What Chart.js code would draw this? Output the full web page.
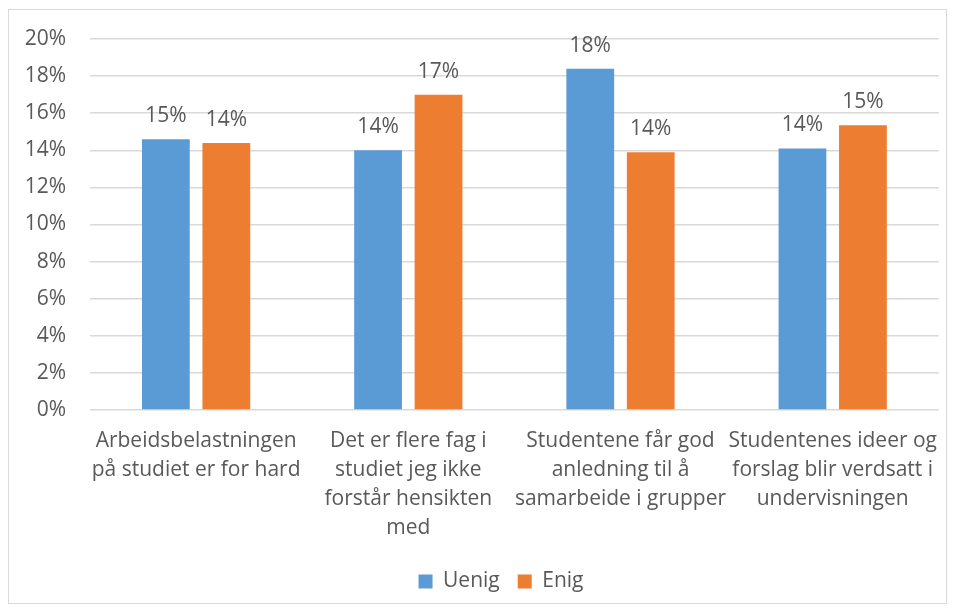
<!DOCTYPE html>
<html>
<head>
<meta charset="utf-8">
<script src="https://cdn.jsdelivr.net/npm/chart.js@4/dist/chart.umd.min.js"></script>
<style>
  html, body { margin: 0; padding: 0; background: #fff; }
  #wrap { position: relative; width: 956px; height: 612px; }
  #frame { position: absolute; left: 8px; top: 9px; width: 937px; height: 593px; border: 1px solid #d9d9d9; pointer-events: none; }
  canvas { position: absolute; left: 0; top: 0; }
</style>
</head>
<body>
<div id="wrap">
  <canvas id="c" width="956" height="612"></canvas>
  <div id="frame"></div>
</div>
<script>
// Uenig / Enig per statement, in percent
const categories = [
    ['Arbeidsbelastningen', 'på studiet er for hard'],
    ['Det er flere fag i', 'studiet jeg ikke', 'forstår hensikten', 'med'],
    ['Studentene får god', 'anledning til å', 'samarbeide i grupper'],
    ['Studentenes ideer og', 'forslag blir verdsatt i', 'undervisningen']
];
const seriesNames = ['Uenig', 'Enig'];
const uenig = [14.6, 14.0, 18.4, 14.1];
const enig = [14.4, 17.0, 13.9, 15.35];
const yMax = 20;
const yStep = 2;

const textColor = '#595959';
const fontFamily = '"Open Sans", "Noto Sans", sans-serif';

// value labels above each bar, rounded to whole percent
const barLabels = {
    id: 'barLabels',
    afterDatasetsDraw(chart) {
        const ctx = chart.ctx;
        ctx.save();
        ctx.fillStyle = textColor;
        ctx.font = '21px ' + fontFamily;
        ctx.textAlign = 'center';
        ctx.textBaseline = 'alphabetic';
        chart.data.datasets.forEach((ds, i) => {
            chart.getDatasetMeta(i).data.forEach((bar, j) => {
                ctx.fillText(Math.round(ds.data[j]) + '%', bar.x, bar.y - 17);
            });
        });
        ctx.restore();
    }
};

// excel centres the legend a bit right of the canvas middle
const legendShift = {
    id: 'legendShift',
    afterLayout(chart) {
        chart.legend.left += 31;
        chart.legend.right += 31;
    }
};

new Chart(document.getElementById('c'), {
    type: 'bar',
    data: {
        labels: categories,
        datasets: [
            { label: seriesNames[0], data: uenig, backgroundColor: '#5b9bd5' },
            { label: seriesNames[1], data: enig, backgroundColor: '#ed7d31' }
        ]
    },
    options: {
        responsive: false,
        animation: false,
        categoryPercentage: 0.57,
        barPercentage: 0.79,
        layout: { padding: { top: 39, right: 16, left: 0, bottom: 10 } },
        plugins: {
            legend: {
                position: 'bottom',
                labels: {
                    boxWidth: 14, boxHeight: 14, padding: 18,
                    color: textColor,
                    font: { family: fontFamily, size: 21 }
                }
            },
            tooltip: { enabled: false }
        },
        scales: {
            x: {
                grid: { display: false, drawTicks: false },
                border: { display: false },
                ticks: {
                    color: textColor, padding: 17, maxRotation: 0, autoSkip: false,
                    font: { family: fontFamily, size: 21, lineHeight: 1.38 }
                },
                afterFit(scale) { scale.height = 143; }
            },
            y: {
                min: 0, max: yMax,
                grid: { color: '#d9d9d9', lineWidth: 1.5, drawTicks: false },
                border: { display: false },
                ticks: {
                    stepSize: yStep, padding: 24, color: textColor,
                    font: { family: fontFamily, size: 21 },
                    callback: v => v + '%'
                },
                afterFit(scale) { scale.width = 90; }
            }
        }
    },
    plugins: [barLabels, legendShift]
});
</script>
</body>
</html>
